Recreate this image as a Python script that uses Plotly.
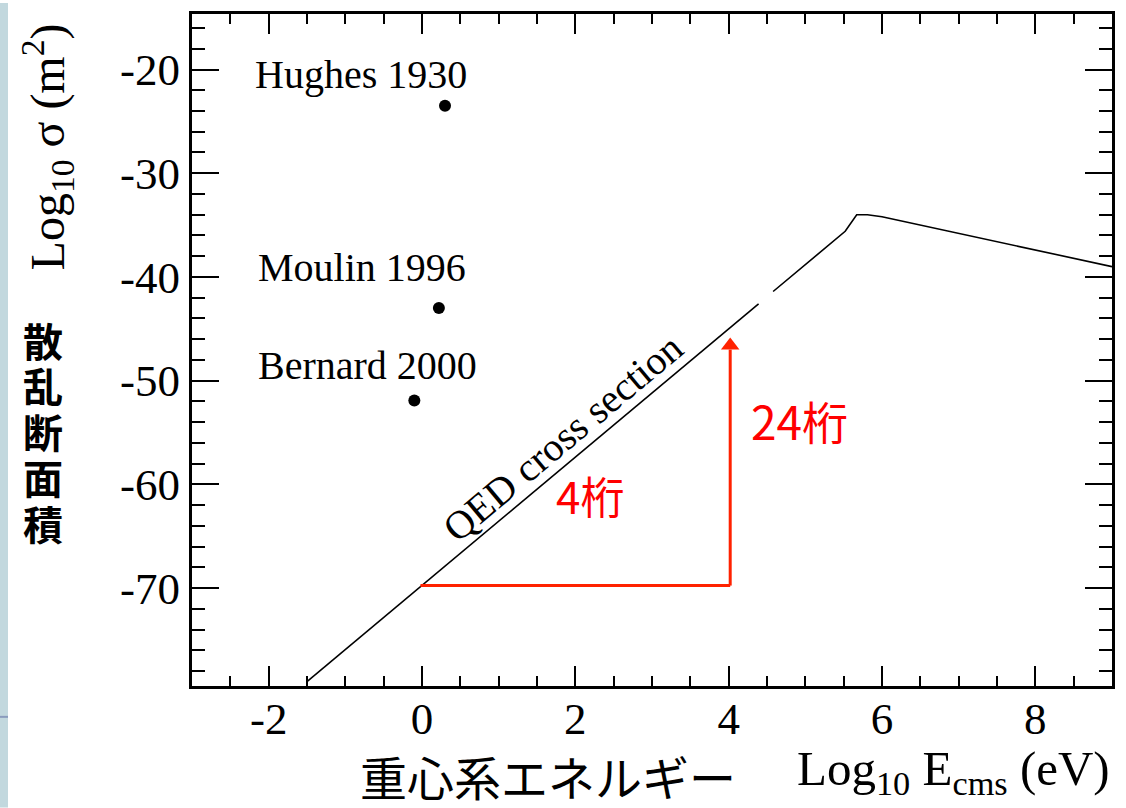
import plotly.graph_objects as go

# ---- data ----
qed_x = [-1.5, 4.39, None, 4.58, 5.52, 5.67, 5.81, 6.0, 9.0]
qed_y = [-79.0, -42.6, None, -41.4, -35.6, -34.0, -34.0, -34.2, -39.0]

exp_names = ["Hughes 1930", "Moulin 1996", "Bernard 2000"]
exp_x = [0.30, 0.22, -0.10]
exp_y = [-23.5, -43.0, -51.9]
label_x = [-0.80, -0.78, -0.71]
label_y = [-20.5, -39.1, -48.5]

red_h_x = [-0.02, 4.02]
red_h_y = [-69.75, -69.75]
red_v_x = [4.02, 4.02]
red_v_y = [-69.75, -47.0]
arrow_tip = (4.02, -46.6)

x_tick_vals = [-2, 0, 2, 4, 6, 8]
x_tick_text = ["-2", "0", "2", "4", "6", "8"]
y_tick_vals = [-70, -60, -50, -40, -30, -20]
y_tick_text = ["-70", "-60", "-50", "-40", "-30", "-20"]

y_title_chars = ["散", "乱", "断", "面", "積"]

SERIF = "Liberation Serif"
CJK = "Noto Sans CJK JP"

W, H = 1126, 808
L, R, T, B = 192, 14, 11, 122
PW, PH = W - L - R, H - T - B


def px_x(p):
    return (p - L) / PW


def px_y(p):
    return (H - B - p) / PH


fig = go.Figure()

fig.add_trace(go.Scatter(x=qed_x, y=qed_y, mode="lines",
                         line=dict(color="black", width=1.6),
                         connectgaps=False, hoverinfo="skip", showlegend=False))
fig.add_trace(go.Scatter(x=exp_x, y=exp_y, mode="markers",
                         marker=dict(color="black", size=12),
                         showlegend=False))
fig.add_trace(go.Scatter(x=red_h_x, y=red_h_y, mode="lines",
                         line=dict(color="#ff2200", width=3), showlegend=False))
fig.add_trace(go.Scatter(x=red_v_x, y=red_v_y, mode="lines",
                         line=dict(color="#ff2200", width=3), showlegend=False))
fig.add_trace(go.Scatter(x=[arrow_tip[0]], y=[arrow_tip[1]], mode="markers",
                         marker=dict(symbol="triangle-up", color="#ff2200", size=16,
                                     line=dict(width=0)),
                         showlegend=False))

C = dict(xanchor="center", yanchor="middle", showarrow=False)

ann = []
for n, xx, yy in zip(exp_names, label_x, label_y):
    ann.append(dict(x=xx, y=yy, text=n,
                    font=dict(family=SERIF, size=40, color="black"), **C))

ann.append(dict(x=1.84, y=-55.5, text="QED cross section",
                textangle=-40, font=dict(family=SERIF, size=40, color="black"), **C))
ann.append(dict(x=2.19, y=-61.0, text="4桁",
                font=dict(family=CJK, size=44, color="#ff0000"), **C))
ann.append(dict(x=4.92, y=-53.8, text="24桁",
                font=dict(family=CJK, size=46, color="#ff0000"), **C))

# y axis title
ann.append(dict(xref="paper", yref="paper", x=px_x(47), y=px_y(145),
                text="Log<sub>10</sub> σ (m<sup>2</sup>)", textangle=-90,
                font=dict(family=SERIF, size=48, color="black"), **C))
for i, ch in enumerate(y_title_chars):
    ann.append(dict(xref="paper", yref="paper", x=px_x(43), y=px_y(338 + 46 * i),
                    text=ch,
                    font=dict(family=CJK, size=40, color="black", weight="bold"), **C))

# x axis title
ann.append(dict(xref="paper", yref="paper", x=px_x(548), y=px_y(776),
                text="重心系エネルギー",
                font=dict(family=CJK, size=47, color="black"), **C))
ann.append(dict(xref="paper", yref="paper", x=px_x(953), y=px_y(772),
                text="Log<sub>10</sub> E<sub>cms</sub> (eV)",
                font=dict(family=SERIF, size=49, color="black"), **C))

shapes = [
    dict(type="rect", xref="paper", yref="paper", x0=px_x(0), x1=px_x(8),
         y0=px_y(808), y1=px_y(0), fillcolor="#c2d8de", line=dict(width=0),
         layer="below"),
    dict(type="line", xref="paper", yref="paper", x0=px_x(0), x1=px_x(8),
         y0=px_y(717), y1=px_y(717), line=dict(color="#8a9bbd", width=2)),
]

axis_common = dict(showline=True, linecolor="black", linewidth=3, mirror="allticks",
                   ticks="inside", tickcolor="black", tickwidth=2,
                   showgrid=False, zeroline=False,
                   tickfont=dict(family=SERIF, size=45, color="black"))

fig.update_layout(
    width=W, height=H, autosize=False,
    margin=dict(l=L, r=R, t=T, b=B),
    paper_bgcolor="white", plot_bgcolor="white",
    annotations=ann, shapes=shapes,
    xaxis=dict(range=[-3, 9], tickmode="array", tickvals=x_tick_vals,
               ticktext=x_tick_text, ticklen=20, ticklabelstandoff=-9,
               minor=dict(ticks="inside", dtick=0.5, tick0=0, ticklen=10,
                          tickwidth=2, tickcolor="black"),
               **axis_common),
    yaxis=dict(range=[-79.43, -14.65], tickmode="array", tickvals=y_tick_vals,
               ticktext=y_tick_text, ticklen=27,
               minor=dict(ticks="inside", dtick=2, tick0=0, ticklen=13,
                          tickwidth=2, tickcolor="black"),
               **axis_common),
)

fig.write_html("out.html", config={"displayModeBar": False},
               post_script="document.body.style.margin='0px';document.body.style.overflow='hidden';")
